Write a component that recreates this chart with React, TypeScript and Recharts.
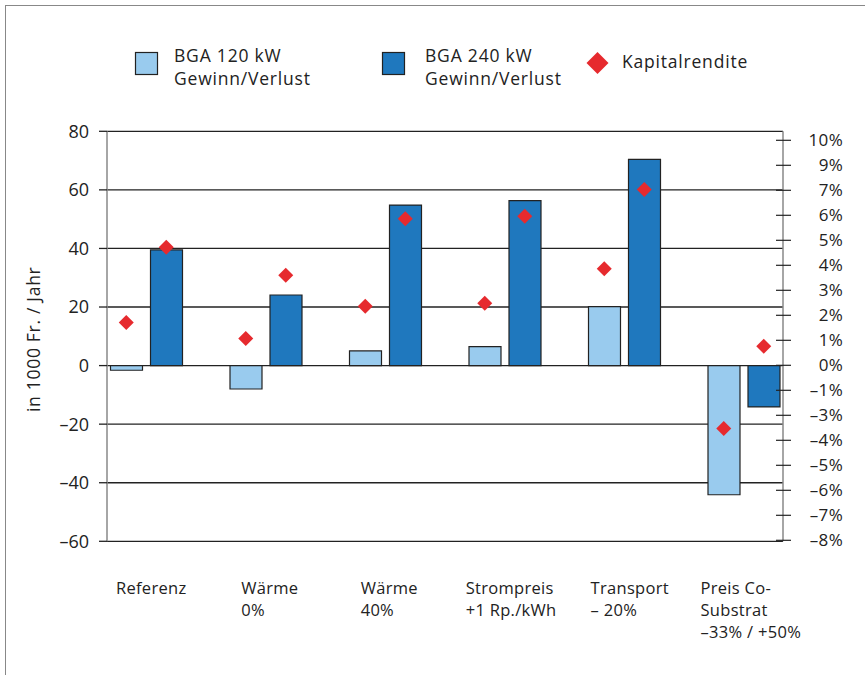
import React from 'react';
import { ComposedChart, Bar, Scatter, XAxis, YAxis, CartesianGrid, Label } from 'recharts';

// Szenarien (Zeilenumbruch = neue Zeile in der Achsenbeschriftung)
const categories = [
  'Referenz',
  'Wärme\n0%',
  'Wärme\n40%',
  'Strompreis\n+1 Rp./kWh',
  'Transport\n– 20%',
  'Preis Co-\nSubstrat\n–33% / +50%',
];

// Gewinn/Verlust in 1000 Fr. pro Jahr
const gewinn120 = [-1.6, -8, 5, 6.5, 20.1, -44.1];
const gewinn240 = [39.5, 24.1, 54.8, 56.3, 70.4, -14.1];

// Kapitalrendite in %
const rendite120 = [1.71, 1.07, 2.36, 2.48, 3.86, -2.53];
const rendite240 = [4.72, 3.6, 5.86, 5.96, 7.03, 0.76];

const leftTicks = [-60, -40, -20, 0, 20, 40, 60, 80];
const rightTicks = [9, 8, 7, 6, 5, 4, 3, 2, 1, 0, -1, -2, -3, -4, -5, -6, -7];
const rightTickLabels = [
  '10%', '9%', '7%', '6%', '5%', '4%', '3%', '2%', '1%', '0%',
  '–1%', '–3%', '–4%', '–5%', '–6%', '–7%', '–8%',
];

const data = categories.map((name, i) => ({
  name,
  g120: gewinn120[i],
  g240: gewinn240[i],
  r120: rendite120[i],
  r240: rendite240[i],
}));

const FONT = '"Open Sans", "Noto Sans", sans-serif';
const TEXT = '#222';
const LIGHT = '#99CBEE';
const DARK = '#1F78BE';
const RED = '#E62A2E';
const BAR_SIZE = 32;
const BAR_GAP = 8;

const CAT_SIZE = 16.5;
const CAT_SPACING = 0.3;

let measureCtx: CanvasRenderingContext2D | null = null;
const textWidth = (s: string, size: number, spacing: number) => {
  if (!measureCtx) measureCtx = document.createElement('canvas').getContext('2d');
  if (!measureCtx) return s.length * (size * 0.55 + spacing);
  measureCtx.font = `${size}px ${FONT}`;
  return measureCtx.measureText(s).width + s.length * spacing;
};

const CategoryTick = (props: any) => {
  const { x, y, payload } = props;
  const lines = String(payload.value).split('\n');
  const w = Math.max(...lines.map((l) => textWidth(l, CAT_SIZE, CAT_SPACING)));
  const x0 = x - 0.43 * w;
  return (
    <text x={x0} y={y + 53} fontSize={CAT_SIZE} letterSpacing={CAT_SPACING} fill={TEXT} fontFamily={FONT}>
      {lines.map((l, i) => (
        <tspan key={i} x={x0} y={y + 53 + i * 21.7}>{l}</tspan>
      ))}
    </text>
  );
};

const RightTick = (props: any) => {
  const { x, y, payload } = props;
  const idx = rightTicks.indexOf(payload.value);
  return (
    <g>
      <line x1={x - 7} x2={x + 8} y1={y} y2={y} stroke={TEXT} strokeWidth={1.2} />
      <text x={x + 60} y={y} dy="0.36em" textAnchor="end" fontSize={17} letterSpacing={0.3} fill={TEXT} fontFamily={FONT}>
        {idx >= 0 ? rightTickLabels[idx] : ''}
      </text>
    </g>
  );
};

const diamond = (shift: number) => (props: any) => {
  const { cx, cy } = props;
  if (cx == null || cy == null) return <g />;
  const x = cx + shift;
  const r = 7.5;
  return <polygon points={`${x},${cy - r} ${x + r},${cy} ${x},${cy + r} ${x - r},${cy}`} fill={RED} />;
};

const YTitle = (props: any) => {
  const { viewBox } = props;
  const cx = viewBox.x + 26;
  const cy = viewBox.y + viewBox.height / 2 + 3;
  return (
    <text
      x={cx}
      y={cy}
      transform={`rotate(-90 ${cx} ${cy})`}
      textAnchor="middle"
      dominantBaseline="central"
      fontSize={17.5}
      letterSpacing={0.7}
      fill={TEXT}
      fontFamily={FONT}
    >
      in 1000 Fr. / Jahr
    </text>
  );
};

const LegendBlock = () => (
  <svg width={865} height={110} style={{ position: 'absolute', left: 0, top: 0 }}>
    <g fontFamily={FONT} fontSize={17.5} letterSpacing={0.8} fill={TEXT}>
      <rect x={135.5} y={52.5} width={22} height={22} fill={LIGHT} stroke={TEXT} strokeWidth={1.2} />
      <text x={174} y={62}>BGA  120 kW</text>
      <text x={174} y={85}>Gewinn/Verlust</text>
      <rect x={382.5} y={52.5} width={22} height={22} fill={DARK} stroke={TEXT} strokeWidth={1.2} />
      <text x={425} y={62}>BGA  240 kW</text>
      <text x={425} y={85}>Gewinn/Verlust</text>
      <polygon points="597.5,52 608.5,63 597.5,74 586.5,63" fill={RED} />
      <text x={622} y={68.3}>Kapitalrendite</text>
    </g>
  </svg>
);

export default function App() {
  return (
    <div
      style={{
        position: 'absolute',
        left: 0,
        top: 0,
        width: 865,
        height: 675,
        overflow: 'hidden',
        background: '#fff',
        fontFamily: FONT,
      }}
    >
      <div
        style={{
          position: 'absolute',
          left: 5,
          top: 5,
          width: 1000,
          height: 1000,
          borderLeft: '1.5px solid #888',
          borderTop: '1.5px solid #888',
        }}
      />
      <ComposedChart
        width={865}
        height={675}
        data={data}
        margin={{ top: 131.3, right: 22, bottom: 33.7, left: 7 }}
        barSize={BAR_SIZE}
        barGap={BAR_GAP}
        style={{ position: 'absolute', left: 0, top: 0 }}
      >
        <CartesianGrid yAxisId="left" vertical={false} stroke={TEXT} strokeWidth={1.3} />
        <XAxis
          dataKey="name"
          interval={0}
          axisLine={false}
          tickLine={false}
          tickSize={0}
          tickMargin={0}
          height={100}
          padding={{ left: -20.5, right: -20.5 }}
          tick={<CategoryTick />}
        />
        <YAxis
          yAxisId="left"
          width={100}
          domain={[-60, 80]}
          ticks={leftTicks}
          interval={0}
          tickSize={8}
          tickMargin={10}
          tickLine={{ stroke: TEXT, strokeWidth: 1.3 }}
          axisLine={{ stroke: '#888', strokeWidth: 1.5 }}
          tickFormatter={(v: number) => (v < 0 ? `–${Math.abs(v)}` : `${v}`)}
          tick={{ fill: TEXT, fontSize: 18, fontFamily: FONT }}
        >
          <Label content={<YTitle />} />
        </YAxis>
        <YAxis
          yAxisId="right"
          orientation="right"
          width={60}
          domain={[-7.04, 9.36]}
          ticks={rightTicks}
          interval={0}
          tickSize={0}
          tickMargin={0}
          tickLine={false}
          axisLine={{ stroke: '#888', strokeWidth: 1.5 }}
          tick={<RightTick />}
        />
        <Bar yAxisId="left" dataKey="g120" name="BGA 120 kW Gewinn/Verlust" fill={LIGHT} stroke={TEXT} strokeWidth={1.2} isAnimationActive={false} />
        <Bar yAxisId="left" dataKey="g240" name="BGA 240 kW Gewinn/Verlust" fill={DARK} stroke={TEXT} strokeWidth={1.2} isAnimationActive={false} />
        <Scatter yAxisId="right" dataKey="r120" name="Kapitalrendite" shape={diamond(-(BAR_SIZE + BAR_GAP) / 2)} isAnimationActive={false} />
        <Scatter yAxisId="right" dataKey="r240" name="Kapitalrendite" shape={diamond((BAR_SIZE + BAR_GAP) / 2)} isAnimationActive={false} />
      </ComposedChart>
      <LegendBlock />
    </div>
  );
}
